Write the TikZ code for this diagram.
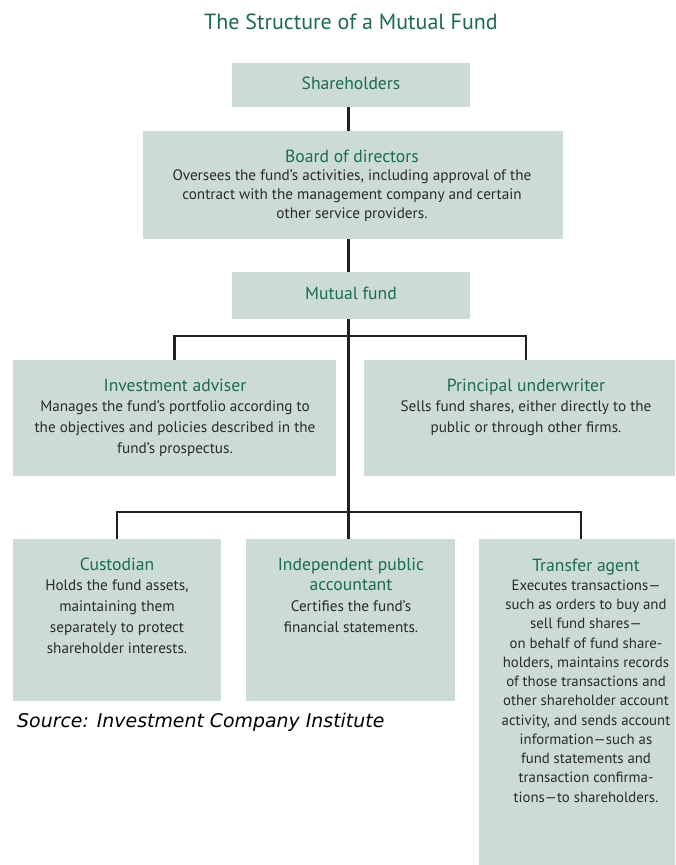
\documentclass[tikz,border=0pt]{standalone}
\usepackage{fontspec}
\setmainfont{PT Sans}
\newfontfamily\srcfont{DejaVu Sans}
\usetikzlibrary{backgrounds}
\definecolor{boxfill}{HTML}{CCDCD4}
\definecolor{tgreen}{HTML}{1B6B50}
\definecolor{btext}{HTML}{2A2A2A}
\definecolor{linec}{HTML}{231F20}
\newcommand\ttl[1]{\textcolor{tgreen}{\fontsize{17.6}{17.6}\selectfont #1}}
\newcommand\bxt[3][15.2]{\fontsize{#1}{#2}\selectfont\begin{tabular}[t]{@{}c@{}}#3\end{tabular}}
\tikzset{
  box/.style={fill=boxfill, draw=none, inner sep=0pt, outer sep=0pt, anchor=north west},
  txt/.style={anchor=base, inner sep=0pt, text=btext},
  trunk/.style={draw=linec, line width=3pt},
  branch/.style={draw=linec, line width=2.3pt}
}
\begin{document}
\begin{tikzpicture}[x=1pt,y=-1pt]
\useasboundingbox (0,0) rectangle (675,865);
% boxes
\node[box, minimum width=238, minimum height=44] (sh) at (232,63) {};
\node[box, minimum width=420, minimum height=108] (bd) at (143,131) {};
\node[box, minimum width=238, minimum height=47] (mf) at (232,272) {};
\node[box, minimum width=323, minimum height=116] (ia) at (13,360) {};
\node[box, minimum width=311, minimum height=116] (pu) at (364,360) {};
\node[box, minimum width=208, minimum height=162] (cu) at (13,539) {};
\node[box, minimum width=209, minimum height=162] (ip) at (246,539) {};
\node[box, minimum width=196, minimum height=326] (ta) at (479,539) {};
% texts
\node[txt, text=tgreen, font=\fontsize{22}{22}\selectfont] (title) at (351,29) {The Structure of a Mutual Fund};
\node[txt] (sht) at (351,89) {\ttl{Shareholders}};
\node[txt] (bdt) at (352,162) {\bxt{18.7}{\ttl{Board of directors}\\
Oversees the fund’s activities, including approval of the\\
contract with the management company and certain\\
other service providers.}};
\node[txt] (mft) at (351,299) {\ttl{Mutual fund}};
\node[txt] (iat) at (175,391) {\bxt{20.7}{\ttl{Investment adviser}\\
Manages the fund’s portfolio according to\\
the objectives and policies described in the\\
fund’s prospectus.}};
\node[txt] (put) at (526,391) {\bxt{20.7}{\ttl{Principal underwriter}\\
Sells fund shares, either directly to the\\
public or through other firms.}};
\node[txt] (cut) at (117,570) {\bxt{20.75}{\ttl{Custodian}\\
Holds the fund assets,\\
maintaining them\\
separately to protect\\
shareholder interests.}};
\node[txt] (ipt) at (351,570) {\bxt{20.7}{\ttl{Independent public}\\
\ttl{accountant}\\
Certifies the fund’s\\
financial statements.}};
\node[txt] (tat) at (586,571) {\bxt[14.8]{19.25}{\ttl{Transfer agent}\\
Executes transactions—\\
such as orders to buy and\\
sell fund shares—\\
on behalf of fund share-\\
holders, maintains records\\
of those transactions and\\
other shareholder account\\
activity, and sends account\\
information—such as\\
fund statements and\\
transaction confirma-\\
tions—to shareholders.}};
\node[anchor=base west, inner sep=0pt, text=black, font=\srcfont\itshape\fontsize{18.9}{18.9}\selectfont] (src) at (17,727) {Source: Investment Company Institute};
% connectors
\coordinate (tx) at (348,0);
\coordinate (j1) at (348,336);
\coordinate (j3) at (581,512);
\begin{scope}[on background layer]
\fill[white] (0,0) rectangle (675,865);
\draw[trunk] (sh.south -| tx) -- (ip.north -| tx);
\draw[branch] (ia.north) |- (j1) -| (pu.north -| put.base);
\draw[branch] (cu.north) |- (j3) -- (ta.north -| j3);
\end{scope}
\end{tikzpicture}
\end{document}
